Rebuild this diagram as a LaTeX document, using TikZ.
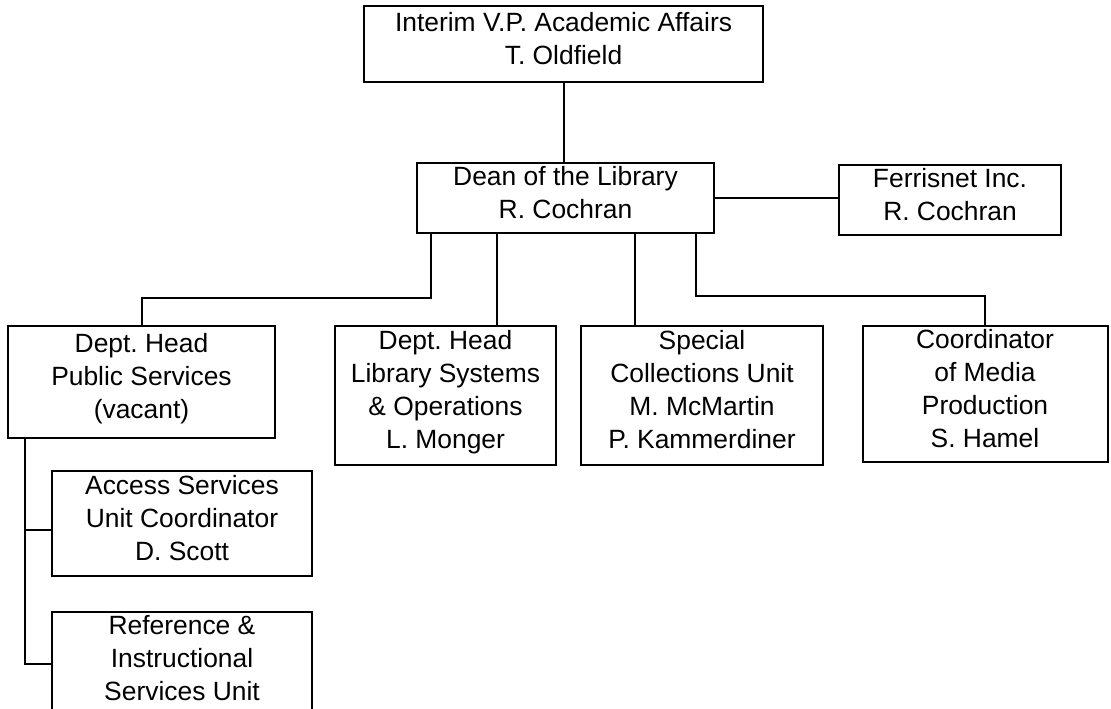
\documentclass[tikz,border=0pt]{standalone}
\usepackage{fontspec}
\setmainfont{Liberation Sans}
\frenchspacing
\usepackage{tikz}
\usetikzlibrary{positioning}
\usetikzlibrary{calc}
\tikzset{node distance=2cm, % Default gap between boxes, overridden below
every node/.style={ % Sets the text of each box
font={\fontsize{13.2pt}{16.5pt}\selectfont},
align=center},
office/.style={ % A box of the chart
draw,
line width=1pt,
inner sep=0pt,
text depth=6pt, % Lifts the text a little inside the box
anchor=north},
link/.style={ % Reporting lines
draw,
line width=1pt}}

\begin{document}
\begin{tikzpicture}[x=0.5pt,y=-0.5pt]
					\useasboundingbox (0,0) rectangle (1111,708);
					\clip (0,0) rectangle (1111,708);

					\node[office, minimum width=199.5pt, minimum height=38pt] at (563.5,5) (vp) {Interim V.P. Academic Affairs\\T. Oldfield};
					\node[office, minimum width=148.5pt, minimum height=35pt, below=39.5pt of vp, xshift=1pt] (dean) {Dean of the Library\\R. Cochran};
					\node[office, anchor=west, minimum width=111pt, minimum height=35pt, right=61.5pt of dean, yshift=-1pt] (ferris) {Ferrisnet Inc.\\R. Cochran};

					\node[office, minimum width=133.5pt, minimum height=56pt] at (141.5,325) (pubserv) {Dept. Head\\Public Services\\(vacant)};
					\node[office, minimum width=110.5pt, minimum height=69.5pt] at (445.5,325) (libsys) {Dept. Head\\Library Systems\\\& Operations\\L. Monger};
					\node[office, minimum width=121pt, minimum height=69.5pt] at (702,325) (special) {Special\\Collections Unit\\M. McMartin\\P. Kammerdiner};
					\node[office, minimum width=122.5pt, minimum height=68pt] at (985,325) (media) {Coordinator\\of Media\\Production\\S. Hamel};

					\node[office, minimum width=130pt, minimum height=52.5pt, below=15.5pt of pubserv, xshift=20.25pt] (access) {Access Services\\Unit Coordinator\\D. Scott};
					\node[office, minimum width=130pt, minimum height=52pt, below=17pt of access] (ref) {Reference \&\\Instructional\\Services Unit};

					% taps on the dean's box
					\coordinate (d1) at ($(dean.south west)+(15,0)$);
					\coordinate (d2) at ($(dean.south west)+(81,0)$);
					\coordinate (d3) at ($(dean.south west)+(219,0)$);
					\coordinate (d4) at ($(dean.south west)+(280,0)$);
					\coordinate (spine) at ($(pubserv.south west)+(18,0)$);

					\draw[link] (vp.south) -- (vp.south |- dean.north);
					\draw[link] (dean.east) -- (dean.east -| ferris.west);

					\draw[link] (d1) -- ++(0,64) -| (pubserv.north);
					\draw[link] (d2) -- (d2 |- libsys.north);
					\draw[link] (d3) -- (d3 |- special.north);
					\draw[link] (d4) -- ++(0,62) -| (media.north);

					\draw[link] (spine) |- ([yshift=-3pt]access.west);
					\draw[link] (spine) |- (ref.west);
				\end{tikzpicture}
\end{document}
